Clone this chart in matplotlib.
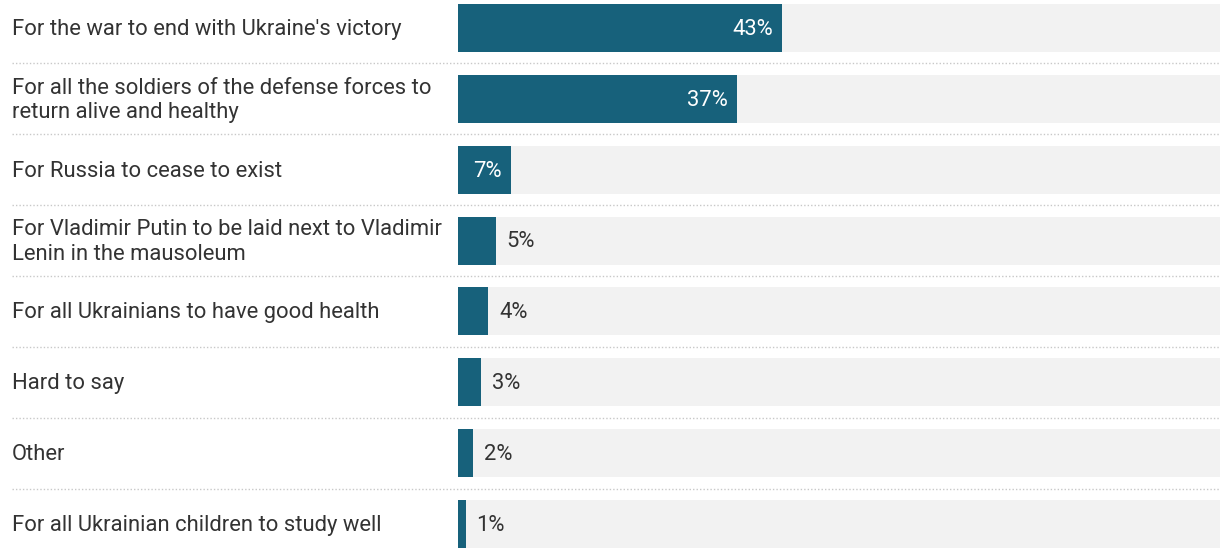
import numpy as np
import matplotlib.pyplot as plt
from matplotlib.transforms import blended_transform_factory

labels = [
    "For the war to end with Ukraine's victory",
    "For all the soldiers of the defense forces to\nreturn alive and healthy",
    "For Russia to cease to exist",
    "For Vladimir Putin to be laid next to Vladimir\nLenin in the mausoleum",
    "For all Ukrainians to have good health",
    "Hard to say",
    "Other",
    "For all Ukrainian children to study well",
]
values = [43, 37, 7, 5, 4, 3, 2, 1]

bar_color = '#17617b'
bg_color = '#f2f2f2'
text_color = '#333333'
plt.rcParams['font.family'] = ['Roboto', 'DejaVu Sans']

W, H = 1224, 548
fig = plt.figure(figsize=(W / 100, H / 100), dpi=100)
pitch = 70.86
y_top = -28 / pitch
y_bot = 7 + 24 / pitch
xmax = 101
ax = fig.add_axes([458 / W, 0, (1220 - 458) / W, 1])
ax.set_xlim(0, xmax)
ax.set_ylim(y_bot, y_top)
ax.axis('off')

y = np.arange(len(values))
h = 48 / pitch
ax.barh(y, [xmax] * len(values), height=h, color=bg_color, zorder=1)
ax.barh(y, values, height=h, color=bar_color, zorder=2)

# labels on the left, in figure x / data y
tr = blended_transform_factory(fig.transFigure, ax.transData)
for yi, lab in zip(y, labels):
    ax.text(12 / W, yi + 0.02, lab, transform=tr, ha='left', va='center',
            fontsize=15.8, color=text_color, linespacing=1.22, clip_on=False)

# value labels
for yi, v in zip(y, values):
    if v >= 7:
        ax.text(v - 1.2, yi + 0.02, f'{v}%', ha='right', va='center',
                fontsize=15.8, color='white', zorder=3)
    else:
        ax.text(v + 1.45, yi + 0.02, f'{v}%', ha='left', va='center',
                fontsize=15.8, color=text_color, zorder=3)

# dotted separators
for yi in y[:-1] + 0.5:
    ax.plot([12 / W, 1220 / W], [yi, yi], transform=tr, color='#c8c8c8',
            linestyle=(0, (1, 1.5)), linewidth=1, clip_on=False, zorder=0)

fig.savefig('out.png', dpi=100)
